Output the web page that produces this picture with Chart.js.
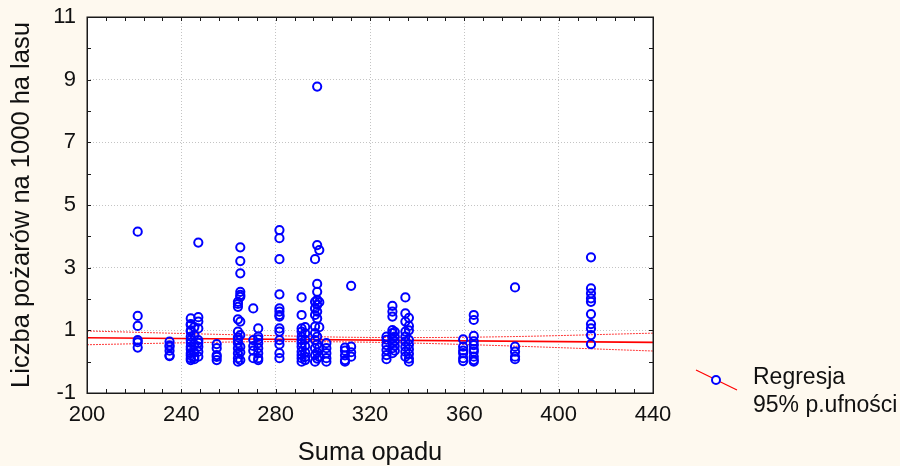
<!DOCTYPE html>
<html lang="pl">
<head>
<meta charset="utf-8">
<title>Liczba pożarów a suma opadu</title>
<script src="https://cdn.jsdelivr.net/npm/chart.js@4/dist/chart.umd.min.js"></script>
<style>
  html, body { margin: 0; padding: 0; background: #FEF9EF; }
  #wrap { position: relative; width: 900px; height: 466px; overflow: hidden; }
  #chart { position: absolute; left: 0; top: 0; }
  #legend { position: absolute; left: 694px; top: 362px; font-family: "Liberation Sans", Arial, sans-serif;
            font-size: 23px; color: #111; }
  #legend svg { position: absolute; left: 0; top: 6px; }
  #legend .txt { position: absolute; left: 59px; top: 0; line-height: 28px; white-space: nowrap; }
</style>
</head>
<body>
<div id="wrap">
  <canvas id="chart" width="900" height="466"></canvas>
  <div id="legend">
    <svg width="48" height="30" viewBox="0 0 48 30">
      <line x1="2" y1="2" x2="43" y2="22" stroke="#ff0000" stroke-width="1.2"/>
      <circle cx="22" cy="12" r="4" fill="#ffffff" stroke="#0000ff" stroke-width="2"/>
    </svg>
    <div class="txt">Regresja<br>95% p.ufności</div>
  </div>
</div>
<script>
// Suma opadu (mm) for each group of observations
const sumaOpadu = [221.5, 235, 244, 245.5, 247.2, 255, 264, 265, 270.5, 272.6, 281.6, 291, 292.5,
                   296.7, 297.6, 298.5, 301.5, 309.4, 312, 327, 329.5, 330.5, 335, 336.5,
                   359.5, 364, 381.5, 413.7];

// Liczba pożarów na 1000 ha lasu, one list per value of sumaOpadu
const liczbaPozarow = [
  [4.15, 1.46, 1.14, 0.69, 0.62, 0.45],
  [0.64, 0.52, 0.48, 0.35, 0.2, 0.18],
  [1.38, 1.2, 1.17, 1.0, 0.96, 0.8, 0.69, 0.6, 0.48, 0.4, 0.27, 0.2, 0.11, 0.05],
  [1.1, 0.85, 0.55, 0.3, 0.15, 0.08],
  [3.8, 1.42, 1.28, 1.06, 0.69, 0.6, 0.48, 0.32, 0.16],
  [0.56, 0.43, 0.21, 0.15, 0.05],
  [1.91, 1.84, 1.75, 1.35, 0.96, 0.78, 0.69, 0.59, 0.43, 0.27, 0.11, 0.0],
  [3.65, 3.21, 2.82, 2.23, 2.13, 2.07, 1.28, 0.85, 0.48, 0.3, 0.05],
  [1.7, 0.69, 0.5, 0.35, 0.11],
  [1.06, 0.8, 0.71, 0.59, 0.43, 0.27, 0.11, 0.05],
  [4.2, 3.94, 3.27, 2.15, 1.7, 1.6, 1.49, 1.44, 1.06, 0.96, 0.69, 0.55, 0.27, 0.11],
  [2.05, 1.49, 1.06, 0.96, 0.8, 0.69, 0.59, 0.48, 0.32, 0.21, 0.11, 0.0],
  [1.1, 0.9, 0.7, 0.5, 0.3, 0.15, 0.05],
  [3.27, 1.91, 1.7, 1.49, 1.12, 0.91, 0.69, 0.43, 0.21, 0.0],
  [8.78, 3.72, 2.48, 2.23, 1.97, 1.81, 1.6, 1.38, 0.8, 0.55, 0.3, 0.1],
  [3.56, 1.9, 1.1, 0.45, 0.15],
  [0.59, 0.43, 0.27, 0.11, 0.0],
  [0.45, 0.35, 0.2, 0.05, 0.0],
  [2.42, 0.48, 0.3, 0.16],
  [0.8, 0.7, 0.53, 0.37, 0.21, 0.08],
  [1.78, 1.6, 1.44, 1.01, 0.91, 0.75, 0.59, 0.43, 0.27],
  [0.95, 0.8, 0.65, 0.5, 0.35],
  [2.05, 1.54, 1.28, 0.96, 0.8, 0.64, 0.48, 0.32, 0.16],
  [1.4, 1.14, 1.0, 0.7, 0.55, 0.4, 0.25, 0.1, 0.0],
  [0.71, 0.48, 0.35, 0.27, 0.11, 0.02],
  [1.49, 1.33, 0.82, 0.65, 0.53, 0.4, 0.32, 0.16, 0.05, 0.0],
  [2.37, 0.48, 0.32, 0.16, 0.08],
  [3.33, 2.34, 2.18, 2.02, 1.91, 1.52, 1.2, 1.06, 0.85, 0.56]
];

// Fitted regression line
const regresjaX = [200, 440];
const regresjaY = [0.765, 0.615];

// 95% confidence band of the fit
const pasmoX     = [200, 240, 280, 310, 340, 380, 440];
const pasmoGorne = [0.98, 0.90, 0.83, 0.78, 0.77, 0.80, 0.91];
const pasmoDolne = [0.54, 0.60, 0.64, 0.63, 0.59, 0.50, 0.34];

// Axis ticks
const tickiX = [200, 240, 280, 320, 360, 400, 440];
const tickiY = [-1, 1, 3, 5, 7, 9, 11];

const FONT = '"Liberation Sans", Arial, sans-serif';

const punkty = [];
sumaOpadu.forEach((x, i) => liczbaPozarow[i].forEach(y => punkty.push({ x, y })));
const zip = (xs, ys) => xs.map((x, i) => ({ x, y: ys[i] }));

// White plotting area on the cream page
const plotBackground = {
  id: 'plotBackground',
  beforeDraw(chart) {
    const { ctx, chartArea: a } = chart;
    ctx.save();
    ctx.fillStyle = '#ffffff';
    ctx.fillRect(a.left, a.top, a.right - a.left, a.bottom - a.top);
    ctx.restore();
  }
};

// Closed frame with short inward ticks on all four sides
const frameTicks = {
  id: 'frameTicks',
  afterDraw(chart) {
    const { ctx, chartArea: a, scales } = chart;
    const xs = scales.x, ys = scales.y;
    const len = 4;
    ctx.save();
    ctx.strokeStyle = '#1a1a1a';
    ctx.lineWidth = 1;
    ctx.beginPath();
    for (let v = 200; v <= 440 + 1e-9; v += 8) {
      const px = Math.round(xs.getPixelForValue(v)) + 0.5;
      ctx.moveTo(px, a.bottom); ctx.lineTo(px, a.bottom - len);
      ctx.moveTo(px, a.top); ctx.lineTo(px, a.top + len);
    }
    for (let v = -1; v <= 11; v += 1) {
      const py = Math.round(ys.getPixelForValue(v)) + 0.5;
      ctx.moveTo(a.left, py); ctx.lineTo(a.left + len, py);
      ctx.moveTo(a.right, py); ctx.lineTo(a.right - len, py);
    }
    ctx.stroke();
    ctx.lineWidth = 1.5;
    ctx.strokeRect(Math.round(a.left) + 0.25, Math.round(a.top) + 0.25,
                   Math.round(a.right - a.left), Math.round(a.bottom - a.top));
    ctx.restore();
  }
};

new Chart(document.getElementById('chart'), {
  type: 'scatter',
  data: {
    datasets: [
      {
        label: 'Dane',
        data: punkty,
        pointRadius: 4.1,
        pointBorderWidth: 2,
        pointBorderColor: '#0000ff',
        pointBackgroundColor: 'rgba(0,0,0,0)',
        pointHoverRadius: 4.1,
        order: 0
      },
      {
        label: 'Regresja',
        data: zip(regresjaX, regresjaY),
        showLine: true,
        borderColor: '#ff0000',
        borderWidth: 1.6,
        pointRadius: 0,
        order: 1
      },
      {
        label: '95% p.ufności (górne)',
        data: zip(pasmoX, pasmoGorne),
        showLine: true,
        cubicInterpolationMode: 'monotone',
        borderColor: '#ff3a3a',
        borderWidth: 1,
        borderDash: [2, 1],
        pointRadius: 0,
        order: 1
      },
      {
        label: '95% p.ufności (dolne)',
        data: zip(pasmoX, pasmoDolne),
        showLine: true,
        cubicInterpolationMode: 'monotone',
        borderColor: '#ff3a3a',
        borderWidth: 1,
        borderDash: [2, 1],
        pointRadius: 0,
        order: 1
      }
    ]
  },
  options: {
    responsive: false,
    animation: false,
    devicePixelRatio: 1,
    layout: { padding: { top: 17, right: 247, left: 0, bottom: 0 } },
    plugins: { legend: { display: false }, tooltip: { enabled: false } },
    scales: {
      x: {
        type: 'linear',
        min: 200, max: 440,
        afterBuildTicks: s => { s.ticks = tickiX.map(v => ({ value: v })); },
        afterFit: s => { s.height = 73; s.paddingLeft = 0; s.paddingRight = 0; },
        grid: { color: '#c4c4c4', lineWidth: 1, drawTicks: false },
        border: { display: false, dash: [1, 2] },
        ticks: { color: '#111', font: { family: FONT, size: 22 }, padding: 9, maxRotation: 0 },
        title: { display: true, text: 'Suma opadu', color: '#111',
                 font: { family: FONT, size: 25.5 }, padding: { top: 2, bottom: -2 } }
      },
      y: {
        type: 'linear',
        min: -1, max: 11,
        afterBuildTicks: s => { s.ticks = tickiY.map(v => ({ value: v })); },
        afterFit: s => { s.width = 87; s.paddingTop = 0; s.paddingBottom = 0; },
        grid: { color: '#c4c4c4', lineWidth: 1, drawTicks: false },
        border: { display: false, dash: [1, 2] },
        ticks: { color: '#111', font: { family: FONT, size: 22 }, padding: 11 },
        title: { display: true, text: 'Liczba pożarów na 1000 ha lasu', color: '#111',
                 font: { family: FONT, size: 25.5 }, padding: { top: 7, bottom: 0 } }
      }
    }
  },
  plugins: [plotBackground, frameTicks]
});
</script>
</body>
</html>
